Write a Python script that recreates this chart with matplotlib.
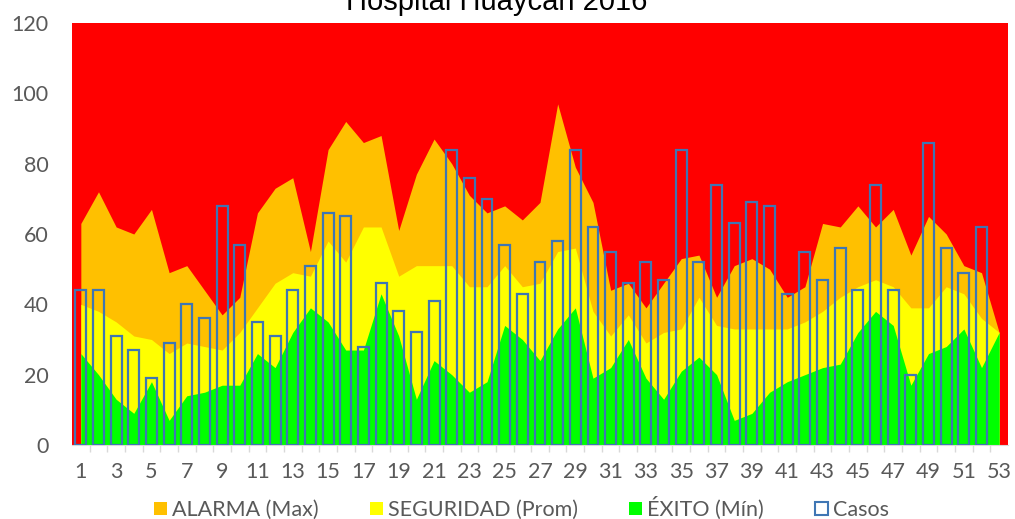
import numpy as np
import matplotlib
matplotlib.use('Agg')
import matplotlib.pyplot as plt
from matplotlib.patches import Rectangle

# semanas epidemiologicas
semana = list(range(1, 54))

alarma = [63, 72, 62, 60, 67, 49, 51, 44, 37, 42, 66, 73, 76, 55, 84, 92, 86, 88, 61, 77,
          87, 80, 71, 66, 68, 64, 69, 97, 79, 69, 44, 46, 39, 46, 53, 54, 42, 51, 53, 50,
          42, 45, 63, 62, 68, 62, 67, 54, 65, 60, 51, 49, 32]
seguridad = [40, 38, 35, 31, 30, 26, 29, 28, 27, 32, 39, 46, 49, 48, 58, 52, 62, 62, 48, 51,
             51, 51, 45, 45, 51, 45, 46, 55, 56, 38, 31, 37, 29, 32, 33, 42, 34, 33, 33, 33,
             33, 35, 38, 42, 45, 47, 45, 39, 39, 45, 43, 36, 32]
exito = [26, 20, 13, 9, 18, 7, 14, 15, 17, 17, 26, 22, 32, 39, 35, 27, 27, 43, 31, 13,
         24, 20, 15, 18, 34, 30, 24, 33, 39, 19, 22, 30, 19, 13, 21, 25, 20, 7, 9, 15,
         18, 20, 22, 23, 32, 38, 34, 17, 26, 28, 33, 22, 32]
casos = [44, 44, 31, 27, 19, 29, 40, 36, 68, 57, 35, 31, 44, 51, 66, 65, 28, 46, 38, 32,
         41, 84, 76, 70, 57, 43, 52, 58, 84, 62, 55, 46, 52, 47, 84, 52, 74, 63, 69, 68,
         43, 55, 47, 56, 44, 74, 44, 20, 86, 56, 49, 62]

c_alarma = '#FFC000'
c_seg = '#FFFF00'
c_exito = '#00FF00'
c_casos = '#3F76B4'
gris = '#595959'

plt.rcParams['font.family'] = ['Lato', 'DejaVu Sans']

W, H = 1015, 519
fig = plt.figure(figsize=(W / 100, H / 100), dpi=100)
ax = fig.add_axes([72 / W, 1 - 445 / H, 936 / W, 422 / H])
ax.set_facecolor('#FF0000')

ax.fill_between(semana, alarma, 0, color=c_alarma, linewidth=0)
ax.fill_between(semana, seguridad, 0, color=c_seg, linewidth=0)
ax.fill_between(semana, exito, 0, color=c_exito, linewidth=0)
ax.bar(semana[:len(casos)], casos, width=0.62, facecolor='none',
       edgecolor=c_casos, linewidth=1.6, zorder=3)

ax.set_xlim(0.5, 53.5)
ax.set_ylim(0, 120)
ax.set_yticks(range(0, 121, 20))
ax.set_xticks(semana[::2])
ax.set_xticks([s + 0.5 for s in semana[:-1]], minor=True)
ax.tick_params(axis='y', length=0, pad=17, labelsize=15.5, labelcolor=gris)
ax.tick_params(axis='x', which='major', length=0, pad=12, labelsize=15.5, labelcolor=gris)
ax.tick_params(axis='x', which='minor', length=5, width=1, color='#D9D9D9')
for s in ['top', 'right', 'left']:
    ax.spines[s].set_visible(False)
ax.spines['bottom'].set_color('#D9D9D9')

# titulo (recortado arriba, como en el original)
fig.text(497 / W, 1 - 9.5 / H, 'Hospital Huaycán 2016', ha='center', va='baseline',
         fontsize=21, family=['Liberation Sans', 'DejaVu Sans'], color='black')

# leyenda
legend_items = [
    ('ALARMA (Max)', c_alarma, 'none', 154),
    ('SEGURIDAD (Prom)', c_seg, 'none', 370),
    ('ÉXITO (Mín)', c_exito, 'none', 629),
    ('Casos', 'white', c_casos, 815),
]
sq = 13
yc = 508
for lab, fc, ec, px in legend_items:
    fig.patches.append(Rectangle((px / W, 1 - (yc + sq / 2) / H), sq / W, sq / H,
                                 transform=fig.transFigure, facecolor=fc, edgecolor=ec,
                                 linewidth=1.5))
    fig.text((px + sq + 5) / W, 1 - 515.5 / H, lab, ha='left', va='baseline',
             fontsize=15.5, color=gris)

fig.savefig('out.png', dpi=100)
